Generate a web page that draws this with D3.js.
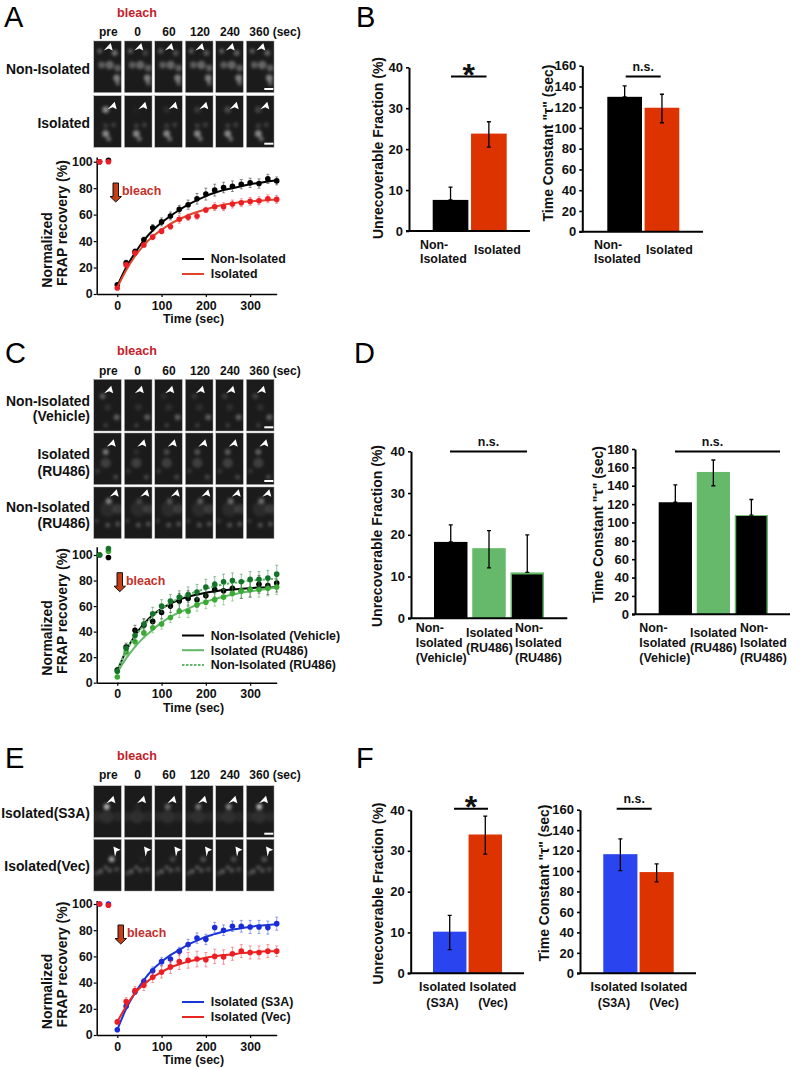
<!DOCTYPE html>
<html><head><meta charset="utf-8">
<script src="https://cdn.jsdelivr.net/npm/d3@7"></script>
<style>
html,body{margin:0;padding:0;background:#fff}
svg{display:block}
text{font-family:"Liberation Sans",Arial,sans-serif;font-weight:bold;fill:#111}
</style></head><body>
<svg id="c" width="802" height="1069"></svg>
<script>
// ---------- data ----------
const frapTimes = d3.range(0, 361, 20);
const preTimes = [-40, -20];
const frameLabels = ["pre", "0", "60", "120", "240"];
const lastFrameLabel = "360 (sec)";
const pctTicks = [0, 20, 40, 60, 80, 100];
const timeTicks = [0, 100, 200, 300];

// Panel A
const aBlackPre = [100, 101];
const aBlack = [7,23.5,32,41,50,54.5,59,64,67.5,72,75.5,78.5,80.5,81.5,83,84,83.5,87,85.5];
const aBlackErr = [1,2,2,2,2.5,3,3,3,3.5,4,4.5,4.5,4,4,3.5,3.5,3.5,3.5,3];
const aBlackFit = [6,20,31,40.5,48,54,59,63.5,67.5,71,74,76.5,78.5,80,81.5,83,84,85,86];
const aRedPre = [100, 100];
const aRed = [4.5,22,31,37,43,47.5,51,56.5,58,59,63.5,66,66,68,69,70,70.5,72,71.5];
const aRedErr = [1,1.5,1.5,1.5,2,2,2,3,2.5,2.5,2,3,3,3,3,3,3,3,3];
const aRedFit = [5,18,28.5,37,43.5,48.5,53,56.5,59.5,62,64,66,67.5,68.5,69.5,70,70.5,71,71.5];

// Panel C
const cBlackPre = [100, 98];
const cBlack = [10,28,41,45,48,55,60,64,66,65,68,73,72,74,72,73,77,76,78];
const cBlackErr = [2,3,4,5,5,5,5,6,6,6,6,6,6,6,6,6,7,7,7];
const cBlackFit = [9,25,37,46,53,58,62,65,67.5,69,70.5,71.5,72.5,73,73.5,74,74.5,74.5,75];
const cLightPre = [100, 103];
const cLight = [4.5,24,32,39,43,46,51,56,56,61,63,65,67,70,72,73,73,74,75];
const cLightErr = [1,3,3,4,4,4,4,5,5,5,5,5,6,6,6,6,6,6,6];
const cLightFit = [8,19,28,35.5,41.5,47,51.5,55,58,61,63.5,65.5,67.5,69,70.5,71.5,72.5,73.5,74.5];
const cDarkPre = [100, 105];
const cDark = [9,27,37,46,54,60,64,67,69,71,75,77,79,80,79,81,81,82,85];
const cDarkErr = [2,3,4,4,5,5,5,5,6,6,6,6,6,6,6,6,6,6,7];
const cDarkFit = [9,25,36,45,52,58,62.5,66,69,71.5,73.5,75.5,77,78,79,80,80.5,81,81.5];

// Panel E
const eBluePre = [100, 100];
const eBlue = [4,22,33,41,49,56,58,64,69,74,73,82,80,83,83,82.5,82.5,82,85];
const eBlueErr = [1,2,2,2,3,3,3,3,4,4,4,4,4,4,4.5,5,5,5,5];
const eBlueFit = [4,20,32,42,50,56,61,65,69,72,75,77,79,80.5,81.5,82.5,83.5,84,84.5];
const eRedPre = [100, 99];
const eRed = [10,25.5,34,38,44,48,52,56,57,58,57.5,60,59.5,62,64,63,63,64,64];
const eRedErr = [1,3,3,4,4,4.5,5,6,6,6,5.5,5.5,5.5,5,5,5,5,5,4];
const eRedFit = [10,22,32,38.5,44,48,51.5,54,56,57.5,59,60,61,61.5,62.5,63,63.5,64,64];

// Bars
const bFraction = [7.6, 23.8];
const bFractionLow = [7.6, 20.5];
const bFractionHigh = [10.7, 26.7];
const bTau = [130, 119.5];
const bTauLow = [130, 105];
const bTauHigh = [140.5, 132.5];
const dFraction = [18.3, 16.8, 11];
const dFractionLow = [18.3, 12.1, 11];
const dFractionHigh = [22.4, 21, 20];
const dTau = [122, 155, 108];
const dTauLow = [122, 140, 108];
const dTauHigh = [141, 168, 125];
const fFraction = [10.2, 34];
const fFractionLow = [5.8, 29.2];
const fFractionHigh = [14.2, 38.5];
const fTau = [116.5, 99];
const fTauLow = [100.5, 89.5];
const fTauHigh = [131.5, 107];
const fractionTicks = [0, 10, 20, 30, 40];
const tauTicks160 = [0, 20, 40, 60, 80, 100, 120, 140, 160];
const tauTicks180 = [0, 20, 40, 60, 80, 100, 120, 140, 160, 180];

const BLACK = "#000", RED = "#dd3300", GREEN = "#66b96a", BLUE = "#2a44f0";
const tauTitle = 'Time Constant "τ" (sec)';
const fracTitle = "Unrecoverable Fraction (%)";

// Micrograph rows: blobs are [x, y, radius, brightness]; first listed blob is the bleached one
const microA = [
 {y:41, arrow:[17,2,0], bar:true, recov:[1,.45,.6,.7,.8,.85], blobs:[[21,12,3.5,.5],[6,10,3,.4],[8,24,4,.4],[16,24,5,.45],[24,27,4,.4],[23,37,4,.6],[24,42,3,.4]]},
 {y:95.7, arrow:[21,6,0], bar:true, recov:[1,.05,.15,.25,.4,.35], blobs:[[12,14,4,.65],[12,38,4,.65],[15,43,3,.45],[20,29,3,.2],[12,30,3,.2]]}
];
const microC = [
 {y:379.3, arrow:[17.5,6.5,0], bar:true, recov:[1,.1,.3,.4,.5,.6], blobs:[[9,17,3.5,.35],[23,38,3.5,.4],[12,46,2.5,.25],[14,28,4,.12]]},
 {y:433, arrow:[20,6.3,0], bar:true, recov:[1,.2,.5,.6,.7,.75], blobs:[[12,19,3.5,.55],[12,30,6,.22],[22,44,3,.25],[4,38,3,.15]]},
 {y:487, arrow:[23,2.3,0], bar:false, recov:[1,.35,.5,.6,.75,.8], blobs:[[15,14,3.5,.6],[14,38,3,.3],[24,37,3,.3],[3,34,2.5,.2],[14,22,9,.1],[24,22,6,.18]]}
];
const microE = [
 {y:785.7, arrow:[19.7,10,0], bar:true, recov:[1,.08,.5,.6,.7,1], blobs:[[13,21,3.5,.9],[13,31,8,.12],[24,31,6,.08],[3,31,6,.08]]},
 {y:839.3, arrow:[19.7,7.3,-52], bar:false, recov:[1,.08,.3,.4,.35,.4], blobs:[[18,20,3.5,.75],[12,28,2.5,.35],[7,32,3,.35],[16,31,3,.3],[23,30,3,.25],[3,34,3,.2]]}
];
const colXs = [93.7, 124.3, 154.7, 185.3, 215.7, 246.3];

// ---------- drawing ----------
const svg = d3.select("#c");
const defs = svg.append("defs");
defs.append("filter").attr("id","blur").attr("x","-100%").attr("y","-100%").attr("width","300%").attr("height","300%")
  .append("feGaussianBlur").attr("stdDeviation",1.7);
const grad = defs.append("linearGradient").attr("id","arrowFill").attr("x1",0).attr("x2",1).attr("y1",0).attr("y2",0);
grad.append("stop").attr("offset","0").attr("stop-color","#a8300f");
grad.append("stop").attr("offset","1").attr("stop-color","#e2481e");

function label(x, y, str, size, opts = {}) {
  return svg.append("text").attr("x", x).attr("y", y).text(str)
    .style("font-size", size + "px")
    .style("font-weight", opts.weight || "bold")
    .style("fill", opts.fill || "#111")
    .attr("text-anchor", opts.anchor || "start");
}
function vLabel(x, yMid, str, size) {
  svg.append("text").attr("transform", `translate(${x},${yMid}) rotate(-90)`)
    .attr("text-anchor", "middle").text(str).style("font-size", size + "px");
}

let clipId = 0;
function micrographs(rows) {
  rows.forEach(r => {
    colXs.forEach((cx, ci) => {
      const id = "clip" + (clipId++);
      defs.append("clipPath").attr("id", id).append("rect").attr("width", 27.7).attr("height", 51.7);
      const g = svg.append("g").attr("transform", `translate(${cx},${r.y})`);
      const inner = g.append("g").attr("clip-path", `url(#${id})`);
      inner.append("rect").attr("width", 27.7).attr("height", 51.7).attr("fill", "#1b1b1b");
      inner.append("g").attr("filter", "url(#blur)").selectAll("circle").data(r.blobs).join("circle")
        .attr("cx", d => d[0]).attr("cy", d => d[1]).attr("r", d => d[2] * .85)
        .attr("fill", "#fff")
        .attr("opacity", (d, i) => (i === 0 ? d[3] * r.recov[ci] : d[3]) * .72);
      g.append("rect").attr("width", 27.7).attr("height", 51.7).attr("fill", "none").attr("stroke", "#999").attr("stroke-width", .5);
      g.append("path").attr("d", "M0,0 L-7,7.5 L-2,5.5 L2,7.5 Z")
        .attr("transform", `translate(${r.arrow[0]},${r.arrow[1]}) rotate(${r.arrow[2]})`)
        .attr("fill", "#fff");
      if (r.bar && ci === 5) g.append("rect").attr("x", 18).attr("y", 47).attr("width", 9).attr("height", 2).attr("fill", "#fff");
    });
  });
}
function frameHeader(bleachY, y) {
  label(117, bleachY, "bleach", 12.6, {fill: "#c4202a"});
  const centers = [108.3, 137.7, 169, 200, 230];
  frameLabels.forEach((t, i) => label(centers[i], y, t, 12, {anchor: "middle"}));
  label(249.3, y, lastFrameLabel, 12);
}
function styleAxis(g, sw) {
  g.selectAll("path.domain").attr("stroke", "#000").attr("stroke-width", sw);
  g.selectAll(".tick line").attr("stroke", "#000").attr("stroke-width", sw * .8);
  g.selectAll(".tick text").style("fill", "#111");
}
function lineChart(o) {
  const x = d3.scaleLinear().domain([-46.5, 360]).range([96.7, 276.7]);
  const y = d3.scaleLinear().domain([0, 100]).range([o.y0, o.y100]);
  const gy = svg.append("g").attr("transform", "translate(96.7,0)")
    .call(d3.axisLeft(y.copy().domain([0, o.topVal]).range([o.y0, y(o.topVal)])).tickValues(pctTicks).tickSize(3).tickSizeOuter(0).tickPadding(1));
  gy.selectAll(".tick text").style("font-size", "12.4px").style("font-family", '"Liberation Sans"').style("font-weight", "bold");
  styleAxis(gy, 1.5);
  const gx = svg.append("g").attr("transform", `translate(0,${o.y0})`)
    .call(d3.axisBottom(x).tickValues(timeTicks).tickSize(3).tickSizeOuter(0).tickPadding(4));
  gx.selectAll(".tick text").style("font-size", "12.4px").style("font-family", '"Liberation Sans"').style("font-weight", "bold");
  styleAxis(gx, 1.5);
  label(163, o.y0 + 29, "Time (sec)", 12.4);
  const line = d3.line().x((d, i) => x(frapTimes[i])).y(d => y(d)).curve(d3.curveMonotoneX);
  o.series.forEach(s => {
    const gS = svg.append("g");
    const all = s.vals.map((v, i) => ({t: frapTimes[i], v, e: s.err[i]}));
    gS.selectAll("path.eb").data(all).join("path").attr("class", "eb")
      .attr("d", d => `M${x(d.t)},${y(d.v - d.e)}V${y(d.v + d.e)}M${x(d.t) - 1.5},${y(d.v + d.e)}h3M${x(d.t) - 1.5},${y(d.v - d.e)}h3`)
      .attr("fill", "none").attr("stroke", s.dot).attr("stroke-width", .8).attr("opacity", .55);
    gS.append("path").datum(s.fit).attr("d", line).attr("fill", "none")
      .attr("stroke", s.color).attr("stroke-width", 2)
      .attr("stroke-dasharray", s.dash ? "2.5,1.5" : null);
    gS.selectAll("circle").data(all.concat(s.pre.map((v, i) => ({t: preTimes[i], v})))).join("circle")
      .attr("cx", d => x(d.t)).attr("cy", d => y(d.v)).attr("r", s.r || 2.8).attr("fill", s.dot);
  });
  // legend
  o.series.forEach((s, i) => {
    const ly = o.legendY + i * o.legendStep;
    svg.append("line").attr("x1", 182).attr("x2", 204).attr("y1", ly).attr("y2", ly)
      .attr("stroke", s.color).attr("stroke-width", 2)
      .attr("stroke-dasharray", s.dash ? "2.5,1.5" : null);
    label(210.7, ly + 4.4, s.name, 12.4);
  });
  // title
  vLabel(52, o.titleMid + 27, "Normalized", 14);
  vLabel(67, o.titleMid, "FRAP recovery (%)", 14);
  // bleach arrow
  const a = svg.append("g").attr("transform", `translate(${o.arrowX},${o.arrowY})`);
  a.append("path").attr("d", "M3,0H8.5V13.5H11.5L5.75,19L0,13.5H3Z").attr("fill", "url(#arrowFill)").attr("stroke", "#111").attr("stroke-width", 1);
  label(o.arrowX + 12, o.arrowY + 12, "bleach", 12.4, {fill: "#c4302a"});
}
function barChart(o) {
  const y = d3.scaleLinear().domain([0, o.max]).range([o.y0, o.yMax]);
  const x = d3.scaleBand().domain(d3.range(o.vals.length)).range([o.barStart, o.barEnd]).paddingInner(o.pad);
  svg.selectAll(null).data(o.vals).join("rect")
    .attr("x", (d, i) => x(i)).attr("width", x.bandwidth())
    .attr("y", d => y(d)).attr("height", d => o.y0 - y(d))
    .attr("fill", (d, i) => o.colors[i]);
  if (o.inset) {
    const i = o.inset.i;
    svg.append("rect").attr("x", x(i) + 1.5).attr("width", x.bandwidth() - 3)
      .attr("y", y(o.inset.v)).attr("height", o.y0 - y(o.inset.v)).attr("fill", "#000");
  }
  o.vals.forEach((v, i) => {
    const c = x(i) + x.bandwidth() / 2;
    svg.append("path").attr("d", `M${c},${y(o.low[i])}V${y(o.high[i])}M${c - 2},${y(o.high[i])}h4M${c - 2},${y(o.low[i])}h4`)
      .attr("fill", "none").attr("stroke", "#000").attr("stroke-width", 1.3);
  });
  const gy = svg.append("g").attr("transform", `translate(${o.axisX},0)`)
    .call(d3.axisLeft(y).tickValues(o.ticks).tickSize(3).tickSizeOuter(0).tickPadding(3));
  gy.selectAll(".tick text").style("font-size", "13px").style("font-family", '"Liberation Sans"').style("font-weight", "bold");
  styleAxis(gy, 2);
  svg.append("line").attr("x1", o.axisX - 3).attr("x2", o.axisEnd).attr("y1", o.y0).attr("y2", o.y0).attr("stroke", "#000").attr("stroke-width", 2);
  vLabel(o.titleX, o.titleMid, o.title, 14);
  svg.append("line").attr("x1", o.sig[0]).attr("x2", o.sig[1]).attr("y1", o.sig[2]).attr("y2", o.sig[2]).attr("stroke", "#000").attr("stroke-width", 2);
  const mid = (o.sig[0] + o.sig[1]) / 2;
  if (o.star) label(mid, o.sig[2] + 9, "*", 32, {anchor: "middle"});
  else label(mid + (o.sigDx || 0), o.sig[2] - 6, "n.s.", 12.4, {anchor: "middle"});
  o.cats.forEach(c => c.lines.forEach((t, j) => label(c.x, c.y + j * (c.step || 14.7), t, 12.4, {anchor: c.anchor || "start"})));
}

// panel letters
[["A",4,27],["B",356,27],["C",5,363],["D",354,363],["E",5,768],["F",356,768]].forEach(d => label(d[1], d[2], d[0], 29, {weight: "normal", fill: "#000"}));

// Panel A
frameHeader(16.7, 36);
micrographs(microA);
label(90, 74, "Non-Isolated", 13.9, {anchor: "end"});
label(90, 128, "Isolated", 13.9, {anchor: "end"});
lineChart({y0: 294, y100: 161.7, topVal: 103.5, titleMid: 223, legendY: 259, legendStep: 15,
  arrowX: 110, arrowY: 183,
  series: [
    {name: "Non-Isolated", color: "#000", dot: "#000", pre: aBlackPre, vals: aBlack, err: aBlackErr, fit: aBlackFit},
    {name: "Isolated", color: "#e0452a", dot: "#ee1c25", pre: aRedPre, vals: aRed, err: aRedErr, fit: aRedFit}
  ]});

// Panel B
barChart({vals: bFraction, low: bFractionLow, high: bFractionHigh, max: 40, y0: 231, yMax: 67.3, ticks: fractionTicks,
  barStart: 432.7, barEnd: 506.7, pad: .07, colors: [BLACK, RED], axisX: 409, axisEnd: 530,
  title: fracTitle, titleX: 383, titleMid: 148, sig: [451, 486.5, 76.5], star: true,
  cats: [{x: 420, y: 248.5, lines: ["Non-", "Isolated"]}, {x: 474, y: 254, lines: ["Isolated"]}]});
barChart({vals: bTau, low: bTauLow, high: bTauHigh, max: 160, y0: 231.7, yMax: 65.7, ticks: tauTicks160,
  barStart: 607.3, barEnd: 679.3, pad: .07, colors: [BLACK, RED], axisX: 582.3, axisEnd: 703,
  title: tauTitle, titleX: 552.7, titleMid: 143, sig: [625.7, 660.7, 76.5], star: false,
  cats: [{x: 594, y: 248.5, lines: ["Non-", "Isolated"]}, {x: 646, y: 254, lines: ["Isolated"]}]});

// Panel C
frameHeader(355, 375);
micrographs(microC);
label(90, 405.7, "Non-Isolated", 13.9, {anchor: "end"});
label(90, 421, "(Vehicle)", 13.9, {anchor: "end"});
label(90, 459, "Isolated", 13.9, {anchor: "end"});
label(90, 475.7, "(RU486)", 13.9, {anchor: "end"});
label(90, 512.3, "Non-Isolated", 13.9, {anchor: "end"});
label(90, 528, "(RU486)", 13.9, {anchor: "end"});
lineChart({y0: 682.7, y100: 555, topVal: 106.4, titleMid: 611, legendY: 635.5, legendStep: 14.7,
  arrowX: 114, arrowY: 572.7,
  series: [
    {name: "Non-Isolated (Vehicle)", color: "#000", dot: "#000", pre: cBlackPre, vals: cBlack, err: cBlackErr, fit: cBlackFit},
    {name: "Isolated (RU486)", color: "#62b868", dot: "#3aaa35", pre: cLightPre, vals: cLight, err: cLightErr, fit: cLightFit},
    {name: "Non-Isolated (RU486)", color: "#62b868", dot: "#14732a", dash: true, pre: cDarkPre, vals: cDark, err: cDarkErr, fit: cDarkFit}
  ]});

// Panel D
barChart({vals: dFraction, low: dFractionLow, high: dFractionHigh, max: 40, y0: 618.3, yMax: 451.3, ticks: fractionTicks,
  barStart: 434, barEnd: 544, pad: .125, colors: [BLACK, GREEN, GREEN], axisX: 411, axisEnd: 567.3,
  inset: {i: 2, v: 10.5},
  title: fracTitle, titleX: 382, titleMid: 536, sig: [450, 527, 451.5], star: false,
  cats: [{x: 415.7, y: 632.3, lines: ["Non-", "Isolated", "(Vehicle)"]}, {x: 466, y: 637.3, lines: ["Isolated", "(RU486)"]}, {x: 515, y: 632.3, lines: ["Non-", "Isolated", "(RU486)"]}]});
barChart({vals: dTau, low: dTauLow, high: dTauHigh, max: 180, y0: 614.3, yMax: 449, ticks: tauTicks180,
  barStart: 658.7, barEnd: 768, pad: .125, colors: [BLACK, GREEN, GREEN], axisX: 635, axisEnd: 790,
  inset: {i: 2, v: 107},
  title: tauTitle, titleX: 603, titleMid: 524.6, sig: [675, 780, 451.5], star: false, sigDx: -15,
  cats: [{x: 639.3, y: 632.3, lines: ["Non-", "Isolated", "(Vehicle)"]}, {x: 690, y: 637.3, lines: ["Isolated", "(RU486)"]}, {x: 740, y: 632.3, lines: ["Non-", "Isolated", "(RU486)"]}]});

// Panel E
frameHeader(760, 779);
micrographs(microE);
label(90, 818, "Isolated(S3A)", 13.9, {anchor: "end"});
label(90, 871, "Isolated(Vec)", 13.9, {anchor: "end"});
lineChart({y0: 1035, y100: 904, topVal: 102.6, titleMid: 964.5, legendY: 1002, legendStep: 15,
  arrowX: 115, arrowY: 925,
  series: [
    {name: "Isolated (S3A)", color: "#1a35d8", dot: "#1a2cd8", pre: eBluePre, vals: eBlue, err: eBlueErr, fit: eBlueFit},
    {name: "Isolated (Vec)", color: "#e8281e", dot: "#ee1c25", pre: eRedPre, vals: eRed, err: eRedErr, fit: eRedFit}
  ]});

// Panel F
barChart({vals: fFraction, low: fFractionLow, high: fFractionHigh, max: 40, y0: 973.3, yMax: 810, ticks: fractionTicks,
  barStart: 433, barEnd: 502, pad: .06, colors: [BLUE, RED], axisX: 410.7, axisEnd: 524,
  title: fracTitle, titleX: 383, titleMid: 893.5, sig: [454, 488, 808.7], star: true,
  cats: [{x: 442.5, y: 990.7, step: 16, anchor: "middle", lines: ["Isolated", "(S3A)"]}, {x: 493, y: 990.7, step: 16, anchor: "middle", lines: ["Isolated", "(Vec)"]}]});
barChart({vals: fTau, low: fTauLow, high: fTauHigh, max: 160, y0: 973.3, yMax: 809.7, ticks: tauTicks160,
  barStart: 603.3, barEnd: 673.7, pad: .06, colors: [BLUE, RED], axisX: 580, axisEnd: 696,
  title: tauTitle, titleX: 549, titleMid: 883, sig: [616.7, 651.7, 808.7], star: false,
  cats: [{x: 614, y: 990.7, step: 16, anchor: "middle", lines: ["Isolated", "(S3A)"]}, {x: 664, y: 990.7, step: 16, anchor: "middle", lines: ["Isolated", "(Vec)"]}]});
</script>
</body></html>
